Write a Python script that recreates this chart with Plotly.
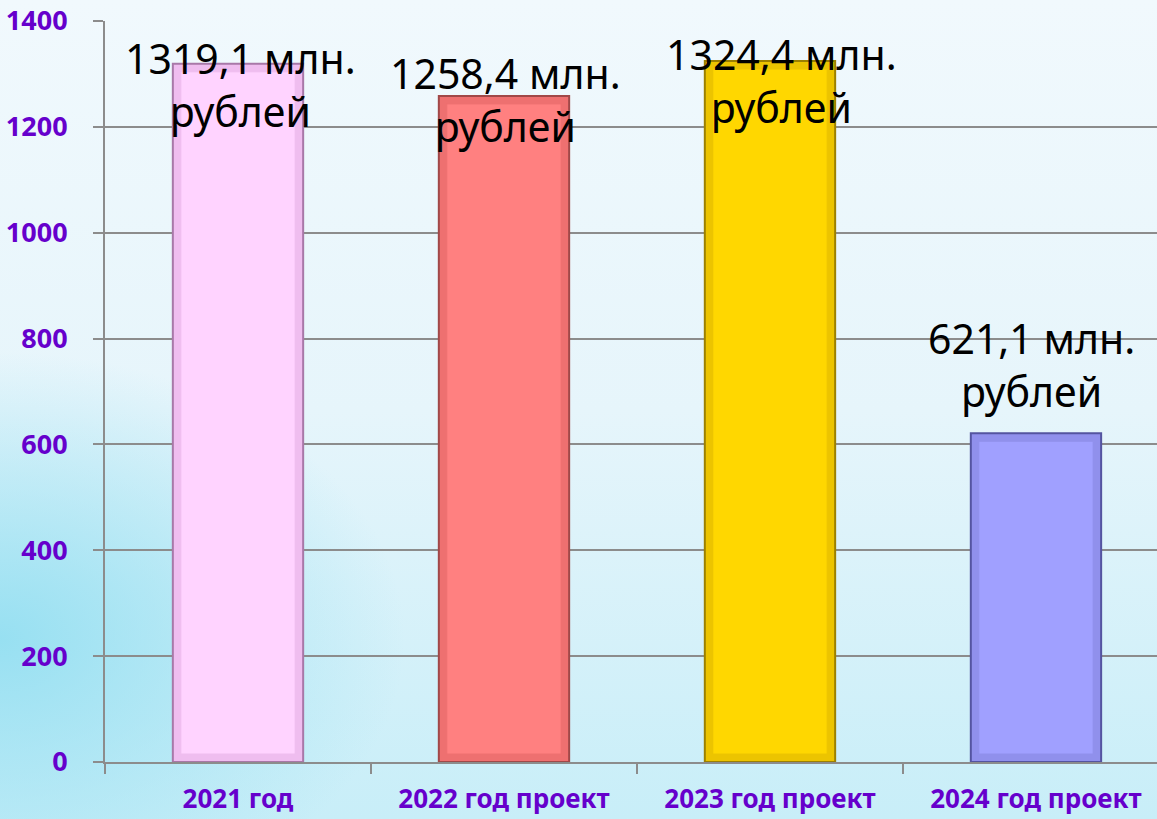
import base64
import plotly.graph_objects as go

# data
categories = ["2021 год", "2022 год проект", "2023 год проект", "2024 год проект"]
values = [1319.1, 1258.4, 1324.4, 621.1]
value_labels = ["1319,1 млн.<br>рублей", "1258,4 млн.<br>рублей",
                "1324,4 млн.<br>рублей", "621,1 млн.<br>рублей"]
y_ticks = [0, 200, 400, 600, 800, 1000, 1200, 1400]

bar_colors = ["#FFD3FF", "#FF8080", "#FFD700", "#A0A0FF"]
bevel_colors = ["#EFBDEF", "#EE7070", "#ECC400", "#9090EC"]
edge_colors = ["#A878A8", "#A04848", "#9C8000", "#5454A0"]
# label offsets (px) relative to bar tops, as in the slide
label_yshift = [-77, -60, -76, 12]
label_xshift = [2, 2, 12, -4]

PURPLE = "#6600CC"
GRID = "#8C8C8C"

W, H = 1157, 819
ML, MR, MT, MB = 105, 0, 21, 57
PW, PH = W - ML - MR, H - MT - MB
Y_MAX = 1400
px_per_unit = PH / Y_MAX
inset = 8 / px_per_unit  # bevel depth in data units

# soft sky background drawn as an svg gradient
bg_svg = """<svg xmlns='http://www.w3.org/2000/svg' width='1157' height='819' preserveAspectRatio='none'>
<defs>
<linearGradient id='g' x1='0' y1='0' x2='0' y2='1'>
<stop offset='0' stop-color='#F1F9FD'/>
<stop offset='0.5' stop-color='#E6F5FB'/>
<stop offset='1' stop-color='#C8EEF8'/>
</linearGradient>
<radialGradient id='r' cx='0' cy='0.78' r='0.35'>
<stop offset='0' stop-color='#94DFF1' stop-opacity='0.95'/>
<stop offset='1' stop-color='#94DFF1' stop-opacity='0'/>
</radialGradient>
</defs>
<rect width='1157' height='819' fill='url(#g)'/>
<rect width='1157' height='819' fill='url(#r)'/>
</svg>"""
bg_uri = "data:image/svg+xml;base64," + base64.b64encode(bg_svg.encode()).decode()

fig = go.Figure()

# outer bevel
fig.add_trace(go.Bar(
    x=categories,
    y=values,
    width=0.49,
    marker=dict(color=bevel_colors, line=dict(color=edge_colors, width=2)),
    hoverinfo="skip",
))
# inner face
fig.add_trace(go.Bar(
    x=categories,
    y=[v - 2 * inset for v in values],
    base=inset,
    width=0.49 - 2 * 8 / (PW / 3.955),
    marker=dict(color=bar_colors, line=dict(color=bevel_colors, width=1)),
    hoverinfo="skip",
))

for cat, val, txt, dy, dx in zip(categories, values, value_labels, label_yshift, label_xshift):
    fig.add_annotation(
        x=cat, y=val, text=txt, showarrow=False,
        yanchor="bottom", xanchor="center", yshift=dy, xshift=dx,
        font=dict(family="Noto Sans", size=41, color="black"),
    )

fig.add_layout_image(dict(
    source=bg_uri, xref="paper", yref="paper",
    x=-ML / PW, y=1 + MT / PH,
    sizex=W / PW, sizey=H / PH, xanchor="left", yanchor="top",
    sizing="stretch", layer="below",
))

fig.update_layout(
    width=W, height=H,
    margin=dict(l=ML, r=MR, t=MT, b=MB, autoexpand=False),
    paper_bgcolor="#E8F6FB",
    plot_bgcolor="rgba(0,0,0,0)",
    showlegend=False,
    barmode="overlay",
)

fig.update_xaxes(
    range=[-0.5, 3.455],
    tickson="boundaries",
    ticks="outside", ticklen=10, tickwidth=2, tickcolor=GRID,
    showline=True, linecolor=GRID, linewidth=2,
    showgrid=False,
    tickfont=dict(family="Noto Sans", size=26, color=PURPLE, weight="bold"),
    ticklabelstandoff=13,
    automargin=False,
)

fig.update_yaxes(
    range=[0, Y_MAX],
    tickvals=y_ticks,
    ticks="outside", ticklen=10, tickwidth=2, tickcolor=GRID,
    showline=True, linecolor=GRID, linewidth=2,
    showgrid=True, gridcolor=GRID, gridwidth=2,
    zeroline=False,
    tickfont=dict(family="Noto Sans", size=27, color=PURPLE, weight="bold"),
    ticklabelstandoff=20,
    automargin=False,
)

fig.write_html("out.html", config={"displayModeBar": False},
               post_script="document.body.style.margin='0';")
